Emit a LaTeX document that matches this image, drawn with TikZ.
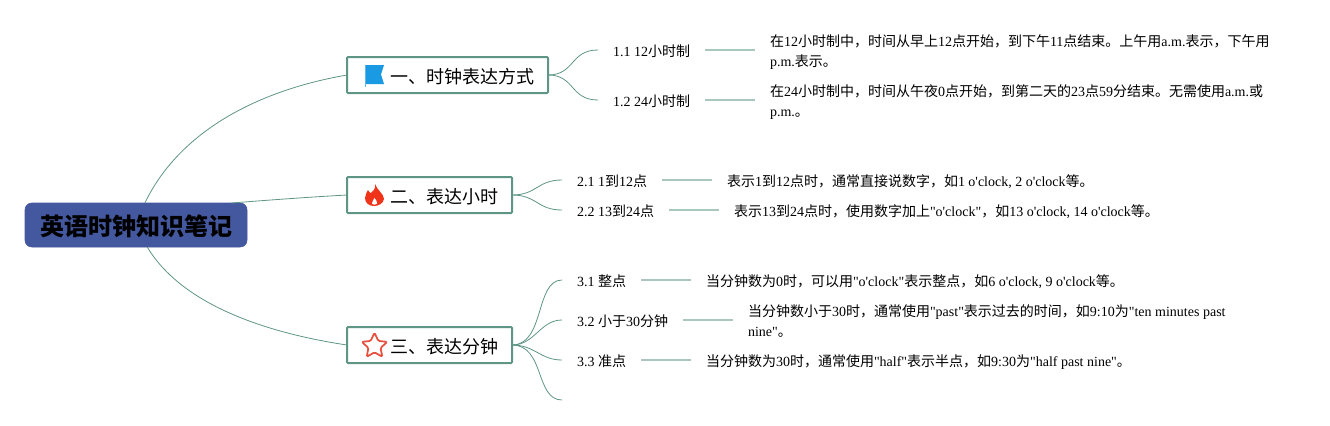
\documentclass[tikz,border=0pt]{standalone}
\usepackage{fontspec}
\usetikzlibrary{shapes.geometric}
\newfontfamily\enfont{Liberation Serif}
\newfontfamily\cjk{Noto Sans CJK SC}
\newcommand{\zh}[1]{{\cjk #1}}
\definecolor{linegreen}{HTML}{5F9585}
\definecolor{palegreen}{HTML}{A9C7BD}
\definecolor{rootblue}{HTML}{44589F}
\definecolor{flagblue}{HTML}{1A9AE2}
\definecolor{fireorange}{HTML}{F0341A}
\definecolor{starred}{HTML}{E8503F}
\tikzset{
  rootbox/.style={draw=rootblue, fill=rootblue, rounded corners=5pt, minimum width=166.5pt, minimum height=33pt, inner sep=0pt, outer sep=0pt, text height=17pt, text depth=1.1pt, font=\cjk\bfseries\fontsize{18}{18}\selectfont},
  mainbox/.style={draw=linegreen, line width=1.5pt, fill=white, rounded corners=0.7pt, minimum height=27pt, inner sep=0pt, outer sep=0pt, anchor=west, text height=12.5pt, text depth=0.5pt, font=\enfont\fontsize{13.5}{16}\selectfont},
  subtext/.style={inner sep=0pt, outer sep=0pt, anchor=west, font=\enfont\fontsize{10.5}{15}\selectfont},
  bigline/.style={draw=linegreen, line width=0.6pt},
  subline/.style={draw=linegreen, line width=0.6pt},
  leafline/.style={draw=palegreen, line width=1.1pt}
}
\begin{document}
\begin{tikzpicture}[x=0.75pt,y=-0.75pt]
\useasboundingbox (0,0) rectangle (1330,425);

\node[rootbox] (root) at (136,225) {英语时钟知识笔记};

\node[mainbox, minimum width=150.75pt] (b1) at (347,75) {\hspace*{22.5pt}\zh{一、时钟表达方式}\hfill};
\node[mainbox, minimum width=123.75pt] (b2) at (347,195) {\hspace*{22.5pt}\zh{二、表达小时}\hfill};
\node[mainbox, minimum width=123.75pt] (b3) at (347,345) {\hspace*{22.5pt}\zh{三、表达分钟}\hfill};

\draw[bigline] (root.68) .. controls (180,130) and (260,90) .. (b1.west);
\draw[bigline] (root.13) .. controls (270,200) and (310,197) .. (b2.west);
\draw[bigline] (root.-63) .. controls (185,310) and (280,335) .. (b3.west);

% icons
\fill[flagblue] (365,65) -- (384,65) -- (381,74.5) -- (384,84) -- (365,84) -- cycle;
\draw[flagblue!70, line width=0.6pt] (365.5,65) -- (365.5,87);
\fill[fireorange] (375,184) .. controls (377,190) and (384,194) .. (384,199)
  .. controls (383,204) and (378,206) .. (374,206)
  .. controls (369,206) and (365,203) .. (365,198)
  .. controls (365,195) and (367,192) .. (368,190)
  .. controls (369,192) and (370,193) .. (371,193)
  .. controls (373,191) and (376,189) .. (375,184) -- cycle;
\fill[white] (374.5,198) .. controls (376,200) and (377.5,202) .. (377,203.5)
  .. controls (376.5,205) and (372.5,205) .. (372,203.5)
  .. controls (371.5,202) and (373.5,200.5) .. (374.5,198) -- cycle;
\node[star, star points=5, star point ratio=2.1, draw=starred, line width=1.3pt, minimum size=20pt, inner sep=0pt, rounded corners=1pt] (icon3) at (374.5,346) {};

% first branch
\coordinate (c11) at (598,50);
\coordinate (c12) at (598,100);
\node[subtext] (s11) at (613,51) {1.1 12\zh{小时制}};
\node[subtext] (s12) at (613,101) {1.2 24\zh{小时制}};
\coordinate (l11) at (705,50);
\coordinate (r11) at (755,50);
\coordinate (l12) at (705,100);
\coordinate (r12) at (755,100);
\node[subtext, align=left] (t11) at (770,52) {\zh{在}12\zh{小时制中，时间从早上}12\zh{点开始，到下午}11\zh{点结束。上午用}a.m.\zh{表示，下午用}\\p.m.\zh{表示。}};
\node[subtext, align=left] (t12) at (770,102) {\zh{在}24\zh{小时制中，时间从午夜}0\zh{点开始，到第二天的}23\zh{点}59\zh{分结束。无需使用}a.m.\zh{或}\\p.m.\zh{。}};
\draw[subline] (b1.east) .. controls (575,75) and (570,50) .. (c11);
\draw[subline] (b1.east) .. controls (575,75) and (570,100) .. (c12);
\draw[leafline] (l11) -- (r11);
\draw[leafline] (l12) -- (r12);

% second branch
\coordinate (c21) at (562,180);
\coordinate (c22) at (562,210);
\node[subtext] (s21) at (577,181) {2.1 1\zh{到}12\zh{点}};
\node[subtext] (s22) at (577,211) {2.2 13\zh{到}24\zh{点}};
\coordinate (l21) at (662,180);
\coordinate (r21) at (712,180);
\coordinate (l22) at (669,210);
\coordinate (r22) at (719,210);
\node[subtext] (t21) at (727,182) {\zh{表示}1\zh{到}12\zh{点时，通常直接说数字，如}1 o'clock, 2 o'clock\zh{等。}};
\node[subtext] (t22) at (734,212) {\zh{表示}13\zh{到}24\zh{点时，使用数字加上}"o'clock"\zh{，如}13 o'clock, 14 o'clock\zh{等。}};
\draw[subline] (b2.east) .. controls (537,195) and (537,180) .. (c21);
\draw[subline] (b2.east) .. controls (537,195) and (537,210) .. (c22);
\draw[leafline] (l21) -- (r21);
\draw[leafline] (l22) -- (r22);

% third branch
\coordinate (c31) at (562,280);
\coordinate (c32) at (562,320);
\coordinate (c33) at (562,360);
\coordinate (c34) at (562,400);
\node[subtext] (s31) at (577,281) {3.1 \zh{整点}};
\node[subtext] (s32) at (577,321) {3.2 \zh{小于}30\zh{分钟}};
\node[subtext] (s33) at (577,361) {3.3 \zh{准点}};
\coordinate (l31) at (641,280);
\coordinate (r31) at (691,280);
\coordinate (l32) at (683,320);
\coordinate (r32) at (733,320);
\coordinate (l33) at (641,360);
\coordinate (r33) at (691,360);
\node[subtext] (t31) at (706,282) {\zh{当分钟数为}0\zh{时，可以用}"o'clock"\zh{表示整点，如}6 o'clock, 9 o'clock\zh{等。}};
\node[subtext, align=left] (t32) at (748,321) {\zh{当分钟数小于}30\zh{时，通常使用}"past"\zh{表示过去的时间，如}9:10\zh{为}"ten minutes past\\nine"\zh{。}};
\node[subtext] (t33) at (706,362) {\zh{当分钟数为}30\zh{时，通常使用}"half"\zh{表示半点，如}9:30\zh{为}"half past nine"\zh{。}};
\draw[subline] (b3.east) .. controls (545,345) and (535,280) .. (c31);
\draw[subline] (b3.east) .. controls (535,345) and (540,320) .. (c32);
\draw[subline] (b3.east) .. controls (535,345) and (540,360) .. (c33);
\draw[subline] (b3.east) .. controls (545,345) and (535,400) .. (c34);
\draw[leafline] (l31) -- (r31);
\draw[leafline] (l32) -- (r32);
\draw[leafline] (l33) -- (r33);
\end{tikzpicture}
\end{document}
